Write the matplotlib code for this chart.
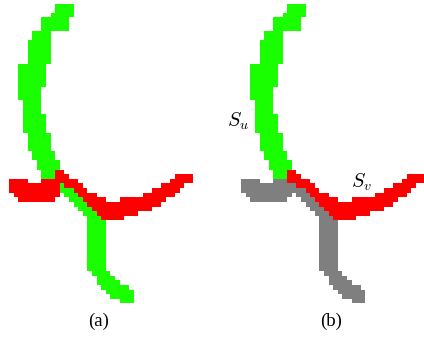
import numpy as np
import matplotlib
matplotlib.use("Agg")
import matplotlib.pyplot as plt

plt.rcParams["mathtext.fontset"] = "cm"

CELL = 4.6          # size of one grid cell in pixels
N_ROWS, N_COLS = 67, 43

# stroke masks, as runs of cells
# (first_row, last_row, first_col, last_col)
ARC_ROWS = [
    (1, 2, 12, 15), (3, 3, 11, 15), (4, 6, 9, 14), (7, 8, 7, 10),
    (9, 13, 6, 10), (14, 18, 4, 9), (19, 21, 4, 8), (22, 24, 5, 8),
    (25, 28, 5, 9), (29, 32, 6, 10), (33, 34, 7, 11), (35, 36, 8, 12),
    (37, 38, 9, 12), (39, 39, 10, 13),
]
TAIL_ROWS = [
    (40, 40, 12, 15), (41, 41, 13, 16), (42, 42, 14, 17), (43, 43, 15, 18),
    (44, 44, 16, 19), (45, 45, 17, 20), (46, 46, 18, 21), (47, 58, 19, 22),
    (59, 59, 20, 23), (60, 60, 21, 24), (61, 61, 21, 25), (62, 62, 22, 27),
    (63, 63, 23, 28), (64, 64, 24, 28), (65, 65, 26, 28),
]
LEFT_ARM_ROWS = [
    (39, 39, 2, 5), (39, 40, 9, 12), (40, 40, 2, 12), (41, 41, 2, 12),
    (42, 42, 3, 12), (43, 43, 4, 11),
]
# (col, top_row, bottom_row)
RIGHT_ARM_COLS = [
    (12, 37, 39), (13, 37, 39), (14, 38, 40), (15, 39, 40), (16, 39, 41),
    (17, 40, 42), (18, 41, 43), (19, 42, 44), (20, 42, 45), (21, 43, 46),
    (22, 43, 47), (23, 44, 47), (24, 44, 47), (25, 44, 47), (26, 43, 47),
    (27, 43, 46), (28, 43, 46), (29, 43, 46), (30, 43, 45), (31, 42, 45),
    (32, 42, 45), (33, 41, 44), (34, 41, 44), (35, 40, 43), (36, 40, 42),
    (37, 39, 42), (38, 38, 41), (39, 38, 40), (40, 38, 39), (41, 38, 39),
]

GREEN = (0.10, 1.0, 0.0)
RED = (1.0, 0.0, 0.0)
GRAY = (0.5, 0.5, 0.5)

PANEL_NAMES = ["(a)", "(b)"]
PANEL_X = [0, 232]
PANEL_COLORS = [
    {1: GREEN, 2: GREEN, 3: RED, 4: RED},
    {1: GREEN, 2: GRAY, 3: GRAY, 4: RED},
]

# label grid: 1 arc, 2 tail, 3 left arm, 4 right arm
labels = np.zeros((N_ROWS, N_COLS), dtype=int)
for r0, r1, c0, c1 in ARC_ROWS:
    labels[r0:r1 + 1, c0:c1 + 1] = 1
for r0, r1, c0, c1 in TAIL_ROWS:
    labels[r0:r1 + 1, c0:c1 + 1] = 2
for r0, r1, c0, c1 in LEFT_ARM_ROWS:
    labels[r0:r1 + 1, c0:c1 + 1] = 3
for c, r0, r1 in RIGHT_ARM_COLS:
    labels[r0:r1 + 1, c] = 4

fig = plt.figure(figsize=(4.24, 3.4), dpi=100)
ax = fig.add_axes([0, 0, 1, 1])
ax.set_xlim(0, 424)
ax.set_ylim(340, 0)
ax.axis("off")

for x0, colors, name in zip(PANEL_X, PANEL_COLORS, PANEL_NAMES):
    rgba = np.zeros((N_ROWS, N_COLS, 4))
    for lab, col in colors.items():
        rgba[labels == lab] = (*col, 1.0)
    ax.imshow(rgba, extent=(x0, x0 + N_COLS * CELL, N_ROWS * CELL, 0),
              interpolation="nearest", aspect="auto")
    ax.text(x0 + 99, 321, name, ha="center", va="center", fontsize=13.5,
            family="Liberation Serif")

ax.text(238, 121, r"$S_u$", ha="center", va="center", fontsize=14.5)
ax.text(361, 182, r"$S_v$", ha="center", va="center", fontsize=14.5)

fig.savefig("out.png", dpi=100)
